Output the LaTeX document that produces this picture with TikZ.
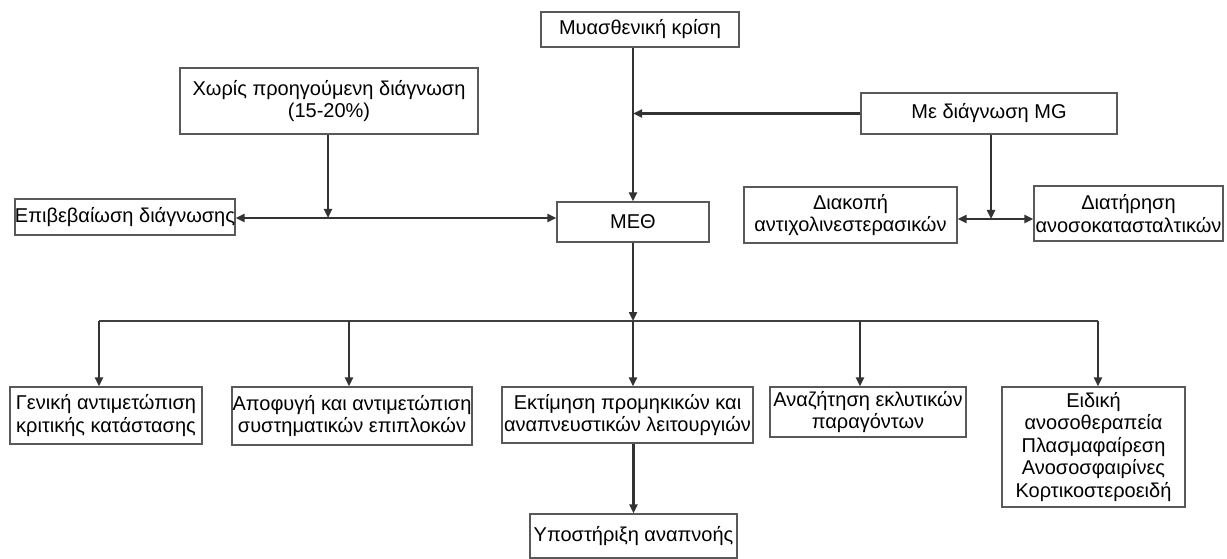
\documentclass[tikz,border=0pt]{standalone}
\usepackage{fontspec}
\setmainfont{Liberation Sans}
\usetikzlibrary{arrows.meta}
\begin{document}
\begin{tikzpicture}[x=1pt,y=-1pt,
  box/.style={draw=black!65, line width=1.1pt, inner sep=0pt, align=center,
    font=\fontsize{20}{22.5}\selectfont, text=black},
  arr/.style={draw=black!80, line width=2.3pt, -{Triangle[length=9pt,width=8pt]}},
  thin/.style={draw=black!75, line width=1.1pt}]
\useasboundingbox (0,0) rectangle (1227,559);
% nodes
\node[box, minimum width=198pt, minimum height=35pt] (A) at (640,29.5) {Μυασθενική κρίση};
\node[box, minimum width=298pt, minimum height=66pt] (X) at (329,101) {Χωρίς προηγούμενη διάγνωση\\(15-20\%)};
\node[box, minimum width=256pt, minimum height=41pt] (G) at (989,113.5) {Με διάγνωση MG};
\node[box, minimum width=218pt, minimum height=36pt] (E) at (125,217) {Επιβεβαίωση διάγνωσης};
\node[box, minimum width=152pt, minimum height=40pt] (M) at (633,222) {ΜΕΘ};
\node[box, minimum width=213pt, minimum height=56pt] (D) at (850.5,215) {Διακοπή\\αντιχολινεστερασικών};
\node[box, minimum width=189pt, minimum height=55pt] (T) at (1128.5,213.5) {Διατήρηση\\ανοσοκατασταλτικών};
\node[box, minimum width=192pt, minimum height=57pt] (B1) at (106,415.5) {Γενική αντιμετώπιση\\κριτικής κατάστασης};
\node[box, minimum width=240pt, minimum height=58pt] (B2) at (352,416) {Αποφυγή και αντιμετώπιση\\συστηματικών επιπλοκών};
\node[box, minimum width=251pt, minimum height=56pt] (B3) at (627.5,415) {Εκτίμηση προμηκικών και\\αναπνευστικών λειτουργιών};
\node[box, minimum width=196pt, minimum height=50pt] (B4) at (868,412) {Αναζήτηση εκλυτικών\\παραγόντων};
\node[box, minimum width=183pt, minimum height=120pt] (B5) at (1093.5,447) {Ειδική\\ανοσοθεραπεία\\Πλασμαφαίρεση\\Ανοσοσφαιρίνες\\Κορτικοστεροειδή};
\node[box, minimum width=207pt, minimum height=44pt] (U) at (633.5,536) {Υποστήριξη αναπνοής};
% junctions
\coordinate (j1) at (328,218);
\coordinate (j2) at (991,219);
\coordinate (br) at (633,321);
\coordinate (b1) at (99,321);
\coordinate (b2) at (349,321);
\coordinate (b4) at (860,321);
\coordinate (b5) at (1098,321);
% connectors
\draw[arr] (A.south -| M.north) -- (M.north);
\draw[arr] (G.west) -- (G.west -| M.north);
\draw[arr] (X.south -| j1) -- (j1);
\draw[arr] (j1) -- (j1 -| E.east);
\draw[arr] (j1) -- (j1 -| M.west);
\draw[arr] (G.south -| j2) -- (j2);
\draw[arr] (j2) -- (j2 -| D.east);
\draw[arr] (j2) -- (j2 -| T.west);
\draw[arr] (M.south) -- (br);
\draw[thin] (b1) -- (b5);
\draw[arr] (b1) -- (b1 |- B1.north);
\draw[arr] (b2) -- (b2 |- B2.north);
\draw[arr] (br) -- (br |- B3.north);
\draw[arr] (b4) -- (b4 |- B4.north);
\draw[arr] (b5) -- (b5 |- B5.north);
\draw[arr] (U.north |- B3.south) -- (U.north);
\end{tikzpicture}
\end{document}
